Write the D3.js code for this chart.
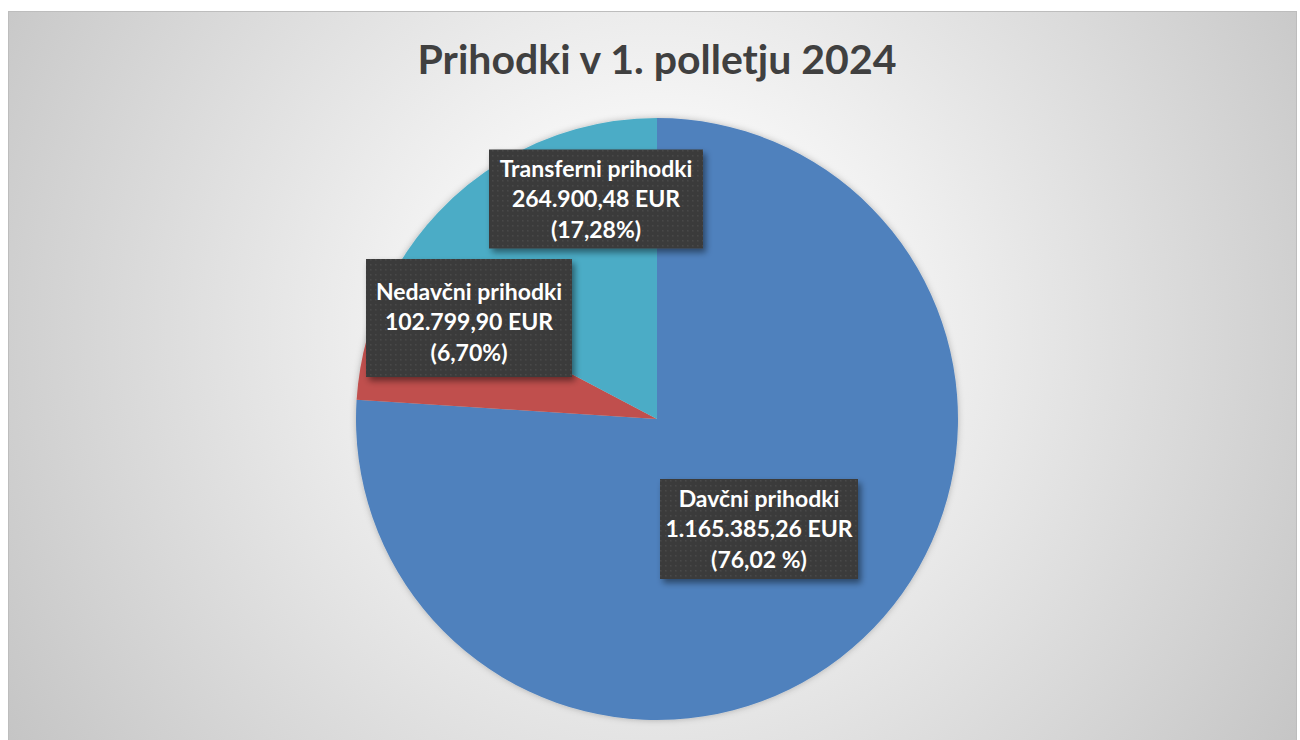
<!DOCTYPE html>
<html>
<head>
<meta charset="utf-8">
<script src="https://cdn.jsdelivr.net/npm/d3@7"></script>
<style>
  html, body { margin: 0; padding: 0; background: #fff; }
  svg { display: block; }
</style>
</head>
<body>
<div id="chart"></div>
<script>
// Data
const categories = ['Davčni prihodki', 'Nedavčni prihodki', 'Transferni prihodki'];
const values = [1165385.26, 102799.90, 264900.48];
const valueLabels = ['1.165.385,26 EUR', '102.799,90 EUR', '264.900,48 EUR'];
const percentLabels = ['(76,02 %)', '(6,70%)', '(17,28%)'];

const colors = ['#4F81BD', '#C0504D', '#4BACC6'];

// Label box layout (center offset from pie center, box size)
const labelBoxes = [
    { dx: 102, dy: 110, w: 198, h: 100 },
    { dx: -188, dy: -101, w: 206, h: 118 },
    { dx: -61, dy: -220, w: 214, h: 99 }
];

const width = 1300;
const height = 740;
const cx = 657, cy = 419, radius = 301;

const svg = d3.select('#chart').append('svg')
    .attr('width', width)
    .attr('height', height);

const defs = svg.append('defs');

// Background gradient
const bg = defs.append('radialGradient')
    .attr('id', 'bg')
    .attr('gradientUnits', 'userSpaceOnUse')
    .attr('cx', 657).attr('cy', 330).attr('r', 800);
bg.append('stop').attr('offset', '0%').attr('stop-color', '#ffffff');
bg.append('stop').attr('offset', '25%').attr('stop-color', '#f6f6f6');
bg.append('stop').attr('offset', '100%').attr('stop-color', '#c2c2c2');

// dotted pattern for labels
const pat = defs.append('pattern')
    .attr('id', 'dots')
    .attr('patternUnits', 'userSpaceOnUse')
    .attr('width', 5).attr('height', 5);
pat.append('rect').attr('width', 5).attr('height', 5).attr('fill', '#3b3b3b');
pat.append('rect').attr('x', 1).attr('y', 1).attr('width', 1.5).attr('height', 1.5).attr('fill', '#4a4a4a');

// shadows
const sh = defs.append('filter').attr('id', 'shadow')
    .attr('x', '-20%').attr('y', '-20%').attr('width', '150%').attr('height', '150%');
sh.append('feDropShadow')
    .attr('dx', 3).attr('dy', 4).attr('stdDeviation', 3)
    .attr('flood-color', '#000').attr('flood-opacity', 0.45);

const pieSh = defs.append('filter').attr('id', 'pieShadow')
    .attr('x', '-10%').attr('y', '-10%').attr('width', '120%').attr('height', '120%');
pieSh.append('feDropShadow')
    .attr('dx', 0).attr('dy', 0).attr('stdDeviation', 3)
    .attr('flood-color', '#000').attr('flood-opacity', 0.25);

// Chart frame
svg.append('rect')
    .attr('x', 8.5).attr('y', 11.5)
    .attr('width', 1288).attr('height', 740)
    .attr('fill', 'url(#bg)')
    .attr('stroke', '#bdbdbd')
    .attr('stroke-width', 1);

// Title
svg.append('text')
    .attr('x', 657)
    .attr('y', 74)
    .attr('text-anchor', 'middle')
    .attr('font-family', 'Lato, "Open Sans", sans-serif')
    .attr('font-weight', 'bold')
    .attr('font-size', 41)
    .attr('fill', '#404040')
    .text('Prihodki v 1. polletju 2024');

// Pie
const pie = d3.pie().sort(null).value(d => d);
const arc = d3.arc().innerRadius(0).outerRadius(radius);

const g = svg.append('g')
    .attr('transform', `translate(${cx},${cy})`);

g.append('g')
    .attr('filter', 'url(#pieShadow)')
    .selectAll('path')
    .data(pie(values))
    .enter().append('path')
    .attr('d', arc)
    .attr('fill', (d, i) => colors[i]);

// Labels
const labels = g.selectAll('g.label')
    .data(categories)
    .enter().append('g')
    .attr('class', 'label')
    .attr('transform', (d, i) => `translate(${labelBoxes[i].dx},${labelBoxes[i].dy})`);

labels.append('rect')
    .attr('x', (d, i) => -labelBoxes[i].w / 2)
    .attr('y', (d, i) => -labelBoxes[i].h / 2)
    .attr('width', (d, i) => labelBoxes[i].w)
    .attr('height', (d, i) => labelBoxes[i].h)
    .attr('fill', 'url(#dots)')
    .attr('filter', 'url(#shadow)');

labels.each(function (d, i) {
    const lines = [d, valueLabels[i], percentLabels[i]];
    const extra = i === 1 ? 4 : 0;
    d3.select(this).selectAll('text')
        .data(lines)
        .enter().append('text')
        .attr('x', 0)
        .attr('y', (t, j) => extra + (j - 1) * 30.5)
        .attr('dy', '0.36em')
        .attr('text-anchor', 'middle')
        .attr('font-family', 'Lato, "Open Sans", sans-serif')
        .attr('font-weight', 'bold')
        .attr('font-size', 23)
        .attr('fill', '#ffffff')
        .text(t => t);
});
</script>
</body>
</html>
